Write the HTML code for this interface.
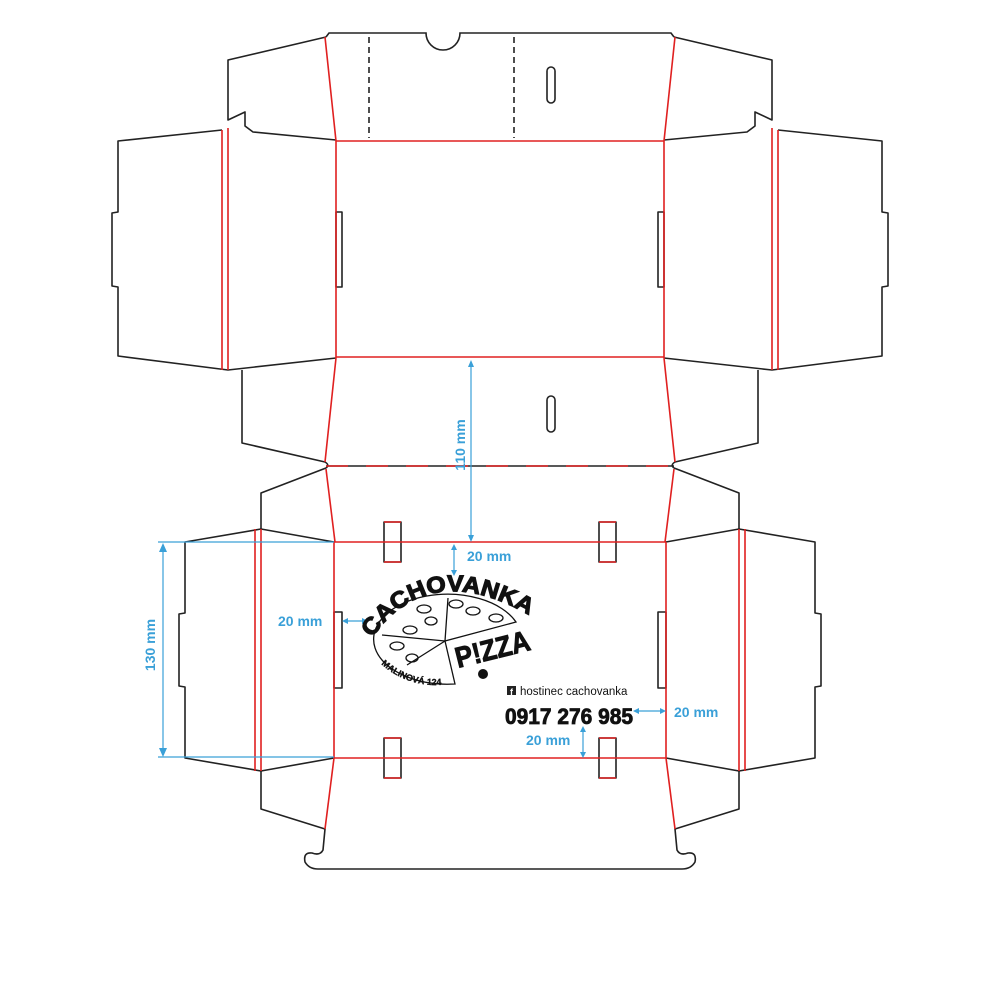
<!DOCTYPE html>
<html><head><meta charset="utf-8"><style>
html,body{margin:0;padding:0;background:#fff;}
svg{display:block;}
text{font-family:"Liberation Sans",sans-serif;}
</style></head><body>
<svg width="1000" height="1000" viewBox="0 0 1000 1000" xmlns="http://www.w3.org/2000/svg">
<defs>
<g id="half" fill="none" stroke-width="1.6" stroke-linejoin="round">
  <path d="M326,37 L228,60 L228,120 L245,112 L245,126 L253,132 L336,140" stroke="#222"/>
  <path d="M325,37 L336,141" stroke="#e02020"/>
  <path d="M222,130 L118,141 L118,212 L112,213 L112,286 L118,287 L118,356 L228,370 L336,358" stroke="#222"/>
  <path d="M222,130 L222,370 M228,128 L228,370" stroke="#e02020"/>
  <rect x="336" y="212" width="6" height="75" stroke="#222"/>
  <path d="M242,370 L242,443 L325,462 Q330,465 326,468" stroke="#222"/>
  <path d="M336,358 L325,462" stroke="#e02020"/>
  <path d="M326,468 L261,493 L261,529" stroke="#222"/>
  <path d="M326,469 L335,542" stroke="#e02020"/>
  <path d="M261,529 L185,542 L185,613 L179,614 L179,686 L185,687 L185,758 L261,771 L334,758 M261,529 L334,542" stroke="#222"/>
  <path d="M255,529 L255,771 M261,529 L261,771" stroke="#e02020"/>
  <rect x="334" y="612" width="8" height="76" stroke="#222"/>
  <path d="M261,771 L261,809 L325,829 L323,850 Q320,856 312,853 Q303,852 305,862 Q309,869 318,869 L500,869" stroke="#222"/>
  <path d="M334,758 L325,829" stroke="#e02020"/>
  <path d="M384,542 L384,522 L401,522 L401,542 M384,542 L384,562 L401,562 L401,542" stroke="#222"/>
  <path d="M384,522 L401,522 M384,562 L401,562" stroke="#e02020"/>
  <path d="M384,758 L384,738 L401,738 L401,758 M384,758 L384,778 L401,778 L401,758" stroke="#222"/>
  <path d="M384,738 L401,738 M384,778 L401,778" stroke="#e02020"/>
</g>
</defs>
<use href="#half"/>
<use href="#half" transform="translate(1000,0) scale(-1,1)"/>
<g fill="none" stroke-width="1.6">
  <path d="M326,37 L329,33 L426,33 A17,17 0 0 0 460,33 L671,33 L674,37" stroke="#222"/>
  <path d="M369,37 L369,138 M514,37 L514,138" stroke="#222" stroke-dasharray="6,4"/>
  <rect x="547" y="67" width="8" height="36" rx="4" stroke="#222"/>
  <rect x="547" y="396" width="8" height="36" rx="4" stroke="#222"/>
  <path d="M336,141 L664,141 M336,141 L336,358 M664,141 L664,358 M336,357 L664,357" stroke="#e02020"/>
  <path d="M326,466 L674,466" stroke="#222"/>
  <path d="M326,466 L674,466" stroke="#e02020" stroke-dasharray="22,18"/>
  <path d="M334,542 L666,542 M334,542 L334,758 M666,542 L666,758 M334,758 L666,758" stroke="#e02020"/>
</g>
<g stroke="#3aa0d8" stroke-width="1.2" fill="#3aa0d8">
  <line x1="471" y1="362" x2="471" y2="540"/>
  <path d="M471,360 l-3,7 h6z M471,542 l-3,-7 h6z" stroke="none"/>
  <line x1="454" y1="546" x2="454" y2="574"/>
  <path d="M454,544 l-3,6 h6z M454,576 l-3,-6 h6z" stroke="none"/>
  <line x1="158" y1="542" x2="334" y2="542"/>
  <line x1="158" y1="757" x2="334" y2="757"/>
  <line x1="163" y1="546" x2="163" y2="753"/>
  <path d="M163,543 l-4,9 h8z M163,757 l-4,-9 h8z" stroke="none"/>
  <line x1="344" y1="621" x2="366" y2="621"/>
  <path d="M342,621 l6,-3 v6z M368,621 l-6,-3 v6z" stroke="none"/>
  <line x1="635" y1="711" x2="664" y2="711"/>
  <path d="M633,711 l6,-3 v6z M666,711 l-6,-3 v6z" stroke="none"/>
  <line x1="583" y1="728" x2="583" y2="756"/>
  <path d="M583,726 l-3,6 h6z M583,758 l-3,-6 h6z" stroke="none"/>
</g>
<g fill="#3aa0d8" font-weight="bold" font-size="14">
  <text transform="translate(465,445) rotate(-90)" text-anchor="middle">110 mm</text>
  <text x="467" y="561">20 mm</text>
  <text x="278" y="626">20 mm</text>
  <text x="674" y="717">20 mm</text>
  <text x="526" y="745">20 mm</text>
  <text transform="translate(155,645) rotate(-90)" text-anchor="middle">130 mm</text>
</g>
<g fill="none" stroke="#111" stroke-width="1.3">
  <path d="M516,622 A74,45 0 1 0 455,684 L445,641 Z"/>
  <path d="M445,641 L448,598 M445,641 L382,635 M445,641 L407,665"/>
  <ellipse cx="424" cy="609" rx="7" ry="4"/>
  <ellipse cx="431" cy="621" rx="6" ry="4"/>
  <ellipse cx="410" cy="630" rx="7" ry="4"/>
  <ellipse cx="456" cy="604" rx="7" ry="4"/>
  <ellipse cx="473" cy="611" rx="7" ry="4"/>
  <ellipse cx="496" cy="618" rx="7" ry="4"/>
  <ellipse cx="397" cy="646" rx="7" ry="4"/>
  <ellipse cx="412" cy="658" rx="6" ry="4"/>
</g>
<path id="arcTop" d="M372,638 Q430,556 534,618" fill="none"/>
<path id="arcBot" d="M381,664 Q410,690 450,684" fill="none"/>
<text font-size="23" font-weight="bold" fill="#111" stroke="#111" stroke-width="1.2"><textPath href="#arcTop" textLength="178" lengthAdjust="spacingAndGlyphs">CACHOVANKA</textPath></text>
<text font-size="9" font-weight="bold" fill="#111" stroke="#111" stroke-width="0.3"><textPath href="#arcBot" textLength="66" lengthAdjust="spacingAndGlyphs">MALINOVÁ 124</textPath></text>
<text x="458" y="668" font-size="29" font-weight="bold" fill="#111" stroke="#111" stroke-width="1" transform="rotate(-14 458 668)" textLength="76" lengthAdjust="spacingAndGlyphs">P!ZZA</text>
<circle cx="483" cy="674" r="5" fill="#111"/>
<rect x="507" y="686" width="9" height="9" fill="#222"/>
<text x="510" y="695" font-size="9" font-weight="bold" fill="#fff">f</text>
<text x="520" y="695" font-size="11.5" fill="#111">hostinec cachovanka</text>
<text x="505" y="724" font-size="22" font-weight="bold" fill="#111" stroke="#111" stroke-width="0.8" textLength="128" lengthAdjust="spacingAndGlyphs">0917 276 985</text>
</svg>
</body></html>
